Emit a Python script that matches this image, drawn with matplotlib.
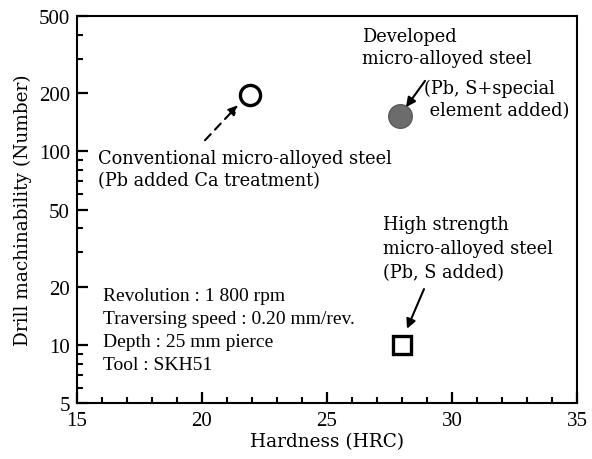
import numpy as np
import matplotlib.pyplot as plt
from matplotlib.ticker import FixedLocator, NullFormatter, MultipleLocator

plt.rcParams['font.family'] = ['DejaVu Serif']

# Data
hardness = [21.9, 27.9, 28.0]
machinability = [195, 152, 10]
steels = ['Conventional', 'Developed', 'High strength']

fig = plt.figure(figsize=(5.92, 4.60), dpi=100)
ax = fig.add_axes([77/592, 1 - 404/460, 500/592, 387/460])

# Conventional: open circle
ax.plot(hardness[0], machinability[0], 'o', ms=14.5, mfc='white', mec='black', mew=2.4)
# Developed: grey filled circle
ax.plot(hardness[1], machinability[1], 'o', ms=17, mfc='#6c6c6c', mec='#5a5a5a', mew=1)
# High strength: open square
ax.plot(hardness[2], machinability[2], 's', ms=13.5, mfc='white', mec='black', mew=2.4)

ax.set_yscale('log')
ax.set_xlim(15, 35)
ax.set_ylim(5, 500)
ax.yaxis.set_major_locator(FixedLocator([5, 10, 20, 50, 100, 200, 500]))
ax.yaxis.set_major_formatter(plt.FuncFormatter(lambda v, p: '%d' % v))
ax.yaxis.set_minor_locator(FixedLocator([6, 7, 8, 9, 30, 40, 60, 70, 80, 90, 300, 400]))
ax.yaxis.set_minor_formatter(NullFormatter())
ax.xaxis.set_major_locator(MultipleLocator(5))
ax.xaxis.set_minor_locator(MultipleLocator(1))

ax.tick_params(which='both', direction='in', top=False, right=False)
ax.tick_params(which='major', length=8, width=1.6)
ax.tick_params(which='minor', length=4, width=1.5)
ax.tick_params(axis='y', pad=5)
ax.tick_params(axis='x', pad=6)
for lab in ax.get_xticklabels() + ax.get_yticklabels():
    lab.set_family('Liberation Serif')
    lab.set_fontsize(15)
for s in ax.spines.values():
    s.set_linewidth(1.5)

ax.set_xlabel('Hardness (HRC)', fontsize=13.3, labelpad=1)
ax.set_ylabel('Drill machinability (Number)', fontsize=13.3, labelpad=5)

tkw = dict(fontsize=12.8, linespacing=1.3, va='top', ha='left')
akw = dict(arrowstyle='-|>', lw=1.5, color='black', shrinkA=0, shrinkB=0,
           mutation_scale=14)

ax.text(15.84, 103, 'Conventional micro-alloyed steel\n(Pb added Ca treatment)', **tkw)
ax.annotate('', xy=(21.44, 173), xytext=(20.12, 114),
            arrowprops=dict(ls=(0, (4, 3)), **akw))

ax.text(26.4, 440, 'Developed\nmicro-alloyed steel', **tkw)
ax.text(28.9, 238, '(Pb, S+special\n element added)', **tkw)
ax.annotate('', xy=(28.16, 169), xytext=(28.92, 231), arrowprops=akw)

ax.text(27.25, 47, 'High strength\nmicro-alloyed steel\n(Pb, S added)',
        **dict(tkw, linespacing=1.45))
ax.annotate('', xy=(28.2, 12.1), xytext=(28.88, 19.4), arrowprops=akw)

ax.text(16.05, 11.9, 'Revolution : 1 800 rpm\nTraversing speed : 0.20 mm/rev.\n'
        'Depth : 25 mm pierce\nTool : SKH51', va='center', ha='left',
        fontsize=14, linespacing=1.45, family='Liberation Serif')

fig.savefig('out.png', dpi=100)
